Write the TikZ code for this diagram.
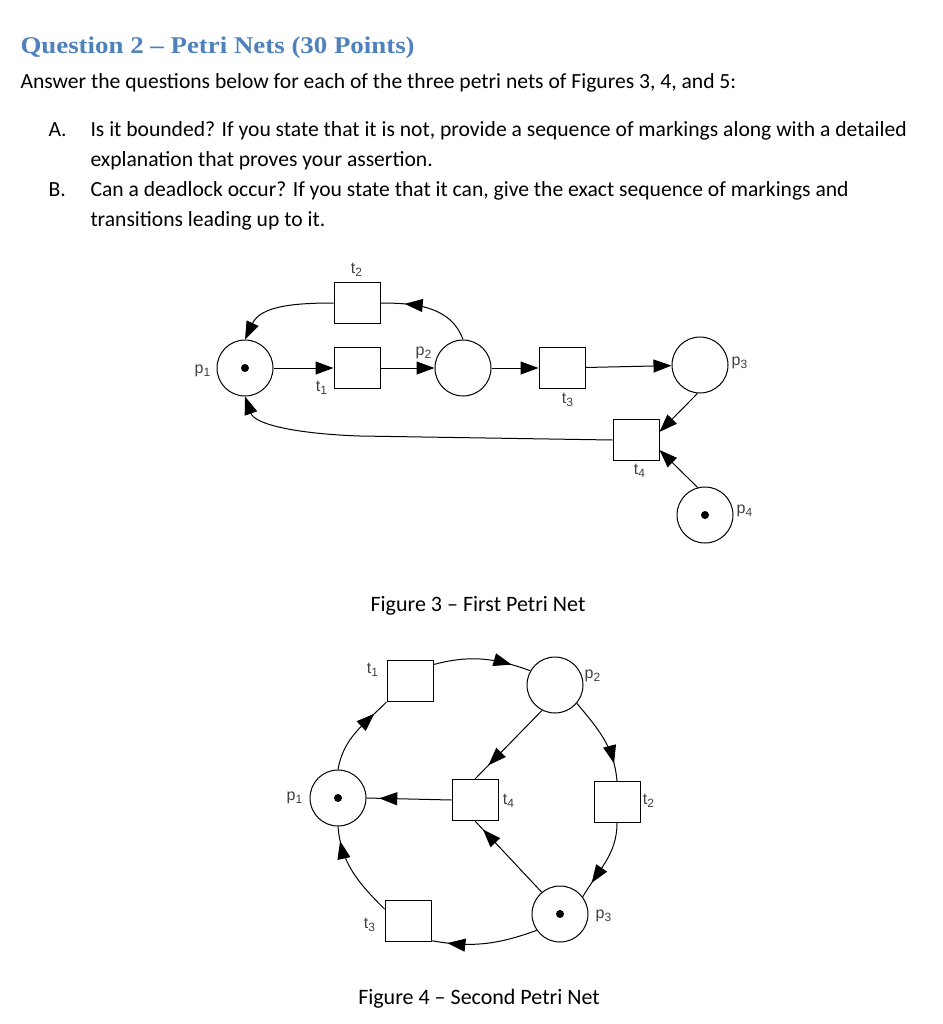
\documentclass[tikz,border=0pt]{standalone}
\usepackage{fontspec}
\setmainfont{Carlito}
\newfontfamily\headfont[FakeStretch=1.12]{Liberation Serif}
\newfontfamily\labfont{Liberation Sans}
\usetikzlibrary{arrows.meta, decorations.markings}
\definecolor{headblue}{RGB}{79,129,189}

\tikzset{
  place/.style={draw, circle, minimum size=28pt, inner sep=0pt},
  trans/.style={draw, rectangle, minimum width=23pt, minimum height=20.5pt, inner sep=0pt},
  tok/.style={fill, circle, inner sep=0pt, minimum size=4pt},
  lab/.style={font=\labfont\fontsize{8}{9}\selectfont, text=black!75, inner sep=0pt},
  line/.style={anchor=base west, inner sep=0pt, font=\fontsize{10.8}{13}\selectfont},
  flow/.style={-{Triangle[length=9pt,width=6.5pt]}},
  midflow/.style={postaction={decorate}, decoration={markings, mark=at position #1 with {\arrow{Triangle[length=9pt,width=6.5pt]}}}},
}

\begin{document}
\begin{tikzpicture}[x=0.5pt, y=0.5pt, line width=0.5pt]
\useasboundingbox (0,0) rectangle (943,-1024);

% question text
\node[line, font=\headfont\bfseries\fontsize{12}{14}\selectfont, text=headblue] (title) at (20,-53) {Question 2 – Petri Nets (30 Points)};
\node[line] (intro) at (20,-88) {Answer the questions below for each of the three petri nets of Figures 3, 4, and 5:};
\node[line] (itemA) at (48,-136) {A.};
\node[line] (textA1) at (90,-136) {Is it bounded? If you state that it is not, provide a sequence of markings along with a detailed};
\node[line] (textA2) at (90,-166) {explanation that proves your assertion.};
\node[line] (itemB) at (48,-196) {B.};
\node[line] (textB1) at (90,-196) {Can a deadlock occur? If you state that it can, give the exact sequence of markings and};
\node[line] (textB2) at (90,-226) {transitions leading up to it.};

% Figure 3
\node[place] (p1) at (245,-368) {}; \node[tok] (k1) at (p1) {};
\node[trans] (t1) at (357,-368) {};
\node[trans] (t2) at (357,-303) {};
\node[place] (p2) at (463,-368) {};
\node[trans] (t3) at (562,-368) {};
\node[place] (p3) at (700,-365) {};
\node[trans] (t4) at (636,-440) {};
\node[place] (p4) at (705,-515) {}; \node[tok] (k4) at (p4) {};
\node[lab] (lp1) at (203,-371) {p\textsubscript{1}};
\node[lab] (lt1) at (322,-388) {t\textsubscript{1}};
\node[lab] (lt2) at (357,-270) {t\textsubscript{2}};
\node[lab] (lp2) at (424,-353) {p\textsubscript{2}};
\node[lab] (lt3) at (568,-400) {t\textsubscript{3}};
\node[lab] (lp3) at (740,-363) {p\textsubscript{3}};
\node[lab] (lt4) at (640,-471) {t\textsubscript{4}};
\node[lab] (lp4) at (745,-511) {p\textsubscript{4}};
\draw[flow] (p1) -- (t1);
\draw[flow] (t1) -- (p2);
\draw[flow] (p2) -- (t3);
\draw[flow] (t3) -- (p3);
\draw[flow] (p3.265) -- (t4.19);
\draw[flow] (p4.105) -- (t4.-23);
\draw[flow] (t2.west) to[out=180,in=65] (p1.north);
\draw[midflow=0.75] (p2.north) to[out=110,in=0] (t2.east);
\draw[flow] (t4.west) -- (360,-436) .. controls (300,-434) and (255,-425) .. (p1.south);
\node (cap3) at (478,-611) [anchor=base, inner sep=0pt, font=\fontsize{11}{13}\selectfont] {Figure 3 – First Petri Net};

% Figure 4
\node[place] (q1) at (338,-798) {}; \node[tok] (m1) at (q1) {};
\node[trans] (u1) at (410,-681) {};
\node[place] (q2) at (555,-685) {};
\node[trans] (u4) at (475,-800) {};
\node[trans] (u2) at (617,-802) {};
\node[place] (q3) at (560,-914) {}; \node[tok] (m3) at (q3) {};
\node[trans] (u3) at (408,-921) {};
\node[lab] (lq1) at (295,-798) {p\textsubscript{1}};
\node[lab] (lu1) at (373,-670) {t\textsubscript{1}};
\node[lab] (lq2) at (593,-676) {p\textsubscript{2}};
\node[lab] (lu4) at (509,-801) {t\textsubscript{4}};
\node[lab] (lu2) at (649,-801) {t\textsubscript{2}};
\node[lab] (lq3) at (604,-916) {p\textsubscript{3}};
\node[lab] (lu3) at (370,-925) {t\textsubscript{3}};
\draw[midflow=0.8] (q1.north) to[out=80,in=225] (u1.south west);
\draw[midflow=0.8] (u1.35) to[out=15,in=160] (q2.150);
\draw[midflow=0.8] (q2.-40) to[out=-50,in=95] (u2.north);
\draw[midflow=0.8] (q2.243) -- (u4.north);
\draw[midflow=0.8] (u2.south) to[out=-90,in=60] (q3.37);
\draw[midflow=0.88] (q3.130) -- (u4.south);
\draw[midflow=0.85] (q3.215) to[out=200,in=-10] (u3.-40);
\draw[midflow=0.85] (u3.153) to[out=135,in=-85] (q1.south);
\draw[midflow=0.85] (u4.west) -- (q1.east);
\node (cap4) at (479,-1004) [anchor=base, inner sep=0pt, font=\fontsize{11}{13}\selectfont] {Figure 4 – Second Petri Net};
\end{tikzpicture}
\end{document}
